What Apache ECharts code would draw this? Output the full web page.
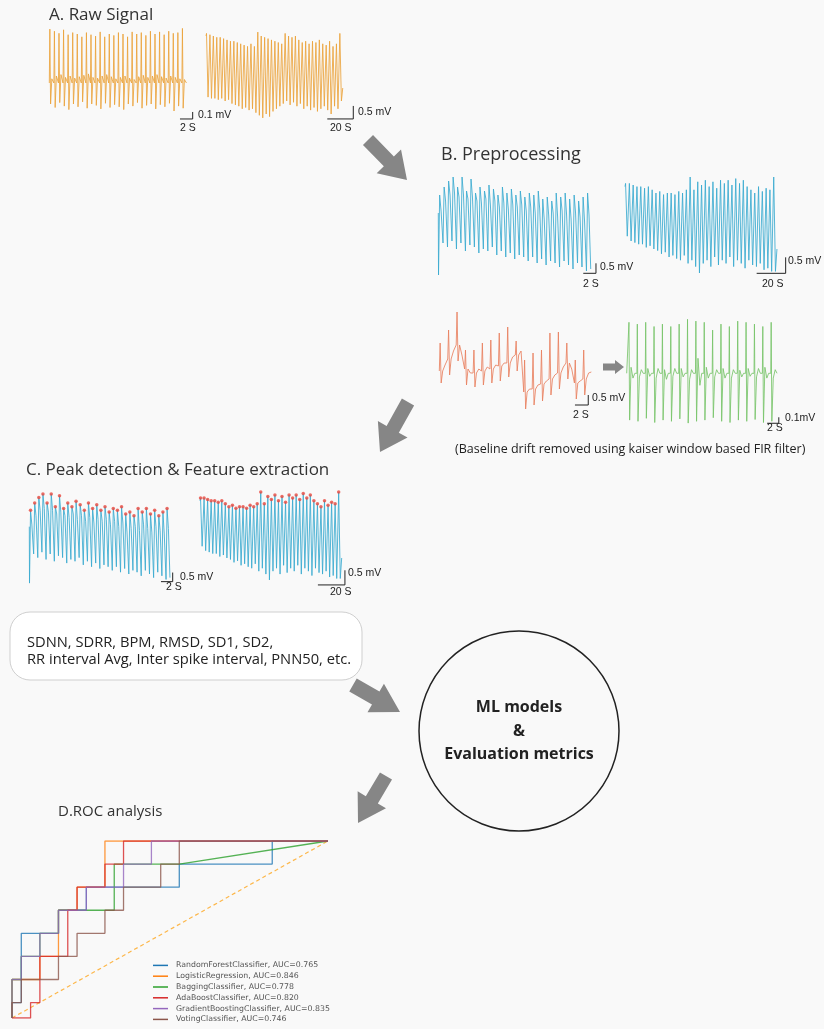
<!DOCTYPE html>
<html>
<head>
<meta charset="utf-8">
<script src="https://cdn.jsdelivr.net/npm/echarts@6/dist/echarts.min.js"></script>
<style>
  html, body { margin: 0; padding: 0; background: #f9f9f9; }
  #main { width: 824px; height: 1029px; }
</style>
</head>
<body>
<div id="main"></div>
<script>
// A. raw signal, short window (mV, one spike per beat)
const rawShortPeaks = [0.77, 0.74, 0.71, 0.76, 0.69, 0.72, 0.7, 0.66, 0.72, 0.69, 0.67, 0.73, 0.66, 0.7, 0.68, 0.72, 0.7, 0.66, 0.73, 0.7, 0.72, 0.68, 0.74, 0.7, 0.73, 0.69, 0.74, 0.71, 0.72, 0.78];
const rawShortTroughs = [-0.3, -0.35, -0.28, -0.33, -0.38, -0.3, -0.34, -0.27, -0.36, -0.3, -0.32, -0.37, -0.29, -0.35, -0.31, -0.34, -0.38, -0.3, -0.33, -0.28, -0.36, -0.32, -0.3, -0.37, -0.31, -0.34, -0.29, -0.4, -0.33, -0.36];
const rawShortHumps = [0.06, 0.1, 0.12, 0.08, 0.1, 0.07, 0.09, 0.11, 0.13, 0.08, 0.07, 0.1, 0.12, 0.09, 0.06, 0.08, 0.1, 0.07, 0.05, 0.09, 0.11, 0.08, 0.1, 0.12, 0.09, 0.07, 0.1, 0.08, 0.06, 0.05];
const rawShortPeriod = 0.72;

// A. raw signal, long window
const rawLongPeaks = [1.6, 1.55, 1.5, 1.45, 1.45, 1.4, 1.35, 1.3, 1.3, 1.25, 1.2, 1.15, 1.1, 1.2, 1.1, 1.65, 1.5, 1.45, 1.4, 1.35, 1.3, 1.25, 1.2, 1.6, 1.5, 1.45, 1.5, 1.35, 1.25, 1.3, 1.2, 1.3, 1.25, 1.35, 1.2, 1.15, 1.3, 1.1, 1.2, 1.6];
const rawLongTroughs = [-0.85, -0.9, -0.9, -0.95, -0.9, -1.0, -0.95, -1.1, -1.15, -1.2, -1.3, -1.25, -1.35, -1.3, -1.45, -1.55, -1.65, -1.5, -1.6, -1.4, -1.3, -1.2, -1.1, -1.0, -1.15, -1.05, -1.2, -1.1, -1.3, -1.2, -1.35, -1.25, -1.4, -1.3, -1.2, -1.35, -1.5, -1.2, -1.3, -1.0];
const rawLongPeriod = 2.63;

// B/C. filtered signal, short window
const filtShortPeaks = [1.5, 1.9, 2.2, 2.4, 1.9, 2.4, 1.7, 2.3, 1.6, 1.9, 1.7, 2.0, 1.8, 1.5, 1.9, 1.6, 1.8, 1.5, 1.7, 1.4, 1.6, 1.5, 1.7, 1.3, 1.4, 1.2, 1.6, 1.4, 1.6, 1.3, 1.5, 1.2, 1.4, 1.6];
const filtShortTroughs = [-2.5, -0.9, -1.1, -0.8, -1.2, -0.9, -1.3, -1.0, -1.1, -1.4, -1.2, -1.3, -1.1, -1.5, -1.3, -1.6, -1.4, -1.7, -1.5, -1.6, -1.8, -1.6, -1.9, -1.7, -2.0, -1.8, -1.9, -2.1, -1.8, -2.0, -2.2, -1.9, -2.1, -2.3];
const filtShortMids = [0.7, 1.2, 1.5, 1.6, 1.4, 1.5, 1.3, 1.4, 1.2, 1.1, 1.3, 1.0, 1.2, 0.9, 1.1, 0.8, 1.0, 0.9, 1.0, 0.7, 0.9, 0.6, 0.8, 0.3, 0.5, 0.6, 0.4, 0.7, 0.5, 0.3, 0.6, 0.4, 0.2, 0.5];
const filtShortPeriod = 0.706;

// B/C. filtered signal, long window
const filtLongPeaks = [1.3, 1.3, 1.25, 1.2, 1.2, 1.15, 1.2, 1.1, 1.0, 1.05, 0.95, 1.0, 1.0, 0.95, 1.05, 1.0, 1.1, 1.5, 1.1, 1.35, 1.25, 1.4, 1.2, 1.35, 1.15, 1.4, 1.3, 1.4, 1.25, 1.45, 1.3, 1.4, 1.2, 1.1, 1.0, 1.2, 1.05, 1.15, 1.1, 1.5];
const filtLongTroughs = [-0.35, -0.5, -0.55, -0.6, -0.6, -0.7, -0.65, -0.75, -0.8, -0.9, -0.85, -1.0, -0.95, -1.05, -1.1, -0.95, -1.2, -1.1, -1.3, -1.5, -1.2, -1.1, -1.3, -1.0, -1.25, -1.1, -1.2, -1.0, -1.3, -1.1, -1.2, -1.35, -1.1, -1.25, -1.3, -1.2, -1.4, -1.35, -1.45, -1.45];
const filtLongPeriod = 2.62;

// B. baseline drift example (orange) and after FIR filter (green)
const driftBase = [0.1, 0.7, 1.4, 0.2, 0.0, 0.1, 0.2, 0.35, 0.5, 0.9, -0.95, -0.8, -0.55, -0.3, 0.0, 0.5, -0.5, -0.3];
const driftPeaks = [1.5, 2.15, 3.05, 1.15, 1.15, 1.5, 1.65, 2.0, 2.3, 1.6, 0.65, 1.0, 1.15, 2.0, 2.05, 1.5, 0.65, 1.15];
const driftTroughs = [-0.5, -0.1, 0.6, -0.6, -0.7, -0.6, -0.5, -0.4, -0.2, 0.1, -1.8, -1.6, -1.4, -1.1, -0.8, -0.3, -1.3, -1.1];
const driftWiggle = [0.4, 1.1, 0.9, 0.0, 0.2, 0.3, 0.4, 0.5, 0.8, 1.1, -0.8, -0.6, -0.4, -0.1, 0.3, 0.2, -0.4, 0.0];
const driftPeriod = 1.27;

const cleanPeaks = [0.85, 0.82, 0.85, 0.78, 0.82, 0.78, 0.82, 0.9, 0.87, 0.85, 0.72, 0.82, 0.78, 0.87, 0.85, 0.82, 0.78, 0.85];
const cleanTroughs = [-0.78, -0.8, -0.75, -0.82, -0.78, -0.8, -0.76, -0.83, -0.8, -0.78, -0.74, -0.8, -0.82, -0.78, -0.8, -0.77, -0.82, -0.8];
const cleanNoiseA = [0.1, -0.06, 0.08, -0.08, 0.06, -0.05, 0.08, -0.1, 0.25, 0.1, -0.06, 0.08, -0.08, 0.05, 0.08, -0.06, 0.1, -0.08];
const cleanNoiseB = [-0.08, 0.06, -0.05, 0.08, -0.1, 0.08, -0.06, 0.06, -0.2, -0.08, 0.06, -0.08, 0.06, -0.06, -0.05, 0.08, -0.08, 0.06];
const cleanPeriod = 1.43;

// D. ROC curves (counts out of 34 negatives / 23 positives)
const NEG = 34, POS = 23;
const rocModels = ['RandomForestClassifier', 'LogisticRegression', 'BaggingClassifier', 'AdaBoostClassifier', 'GradientBoostingClassifier', 'VotingClassifier'];
const rocAuc = [0.765, 0.846, 0.778, 0.820, 0.835, 0.746];
const rocColors = ['#1f77b4', '#ff7f0e', '#2ca02c', '#d62728', '#9467bd', '#8c564b'];
const rocFp = [
  [0, 0, 1, 1, 5, 5, 8, 8, 18, 18, 28, 28, 34],
  [0, 0, 3, 3, 5, 5, 7, 7, 10, 10, 34],
  [0, 0, 1, 1, 3, 3, 5, 5, 11, 11, 18, 34],
  [0, 2, 2, 3, 3, 6, 6, 7, 7, 10, 10, 12, 12, 34],
  [0, 0, 1, 1, 3, 3, 5, 5, 8, 8, 12, 12, 15, 15, 34],
  [0, 0, 1, 1, 5, 5, 7, 7, 10, 10, 12, 12, 16, 16, 18, 18, 34]
];
const rocTp = [
  [0, 2, 2, 11, 11, 14, 14, 17, 17, 20, 20, 23, 23],
  [0, 5, 5, 8, 8, 14, 14, 17, 17, 23, 23],
  [0, 5, 5, 8, 8, 11, 11, 14, 14, 20, 20, 23],
  [0, 0, 2, 2, 8, 8, 14, 14, 17, 17, 20, 20, 23, 23],
  [0, 5, 5, 8, 8, 11, 11, 14, 14, 17, 17, 20, 20, 23, 23],
  [0, 2, 2, 5, 5, 8, 8, 11, 11, 14, 14, 17, 17, 20, 20, 23, 23]
];

// ---------- trace builders ----------
function spikeLine(peaks, troughs, humps, P) {
  const pts = [];
  peaks.forEach((p, i) => {
    const t = i * P;
    pts.push([t, 0], [t + 0.12 * P, p], [t + 0.28 * P, troughs[i]], [t + 0.55 * P, humps[i]]);
  });
  pts.push([peaks.length * P, 0]);
  return pts;
}
function sawLine(peaks, troughs, P, start, end) {
  const pts = [[0, start]];
  peaks.forEach((p, i) => {
    const t = i * P;
    pts.push([t + 0.15 * P, p], [t + 0.6 * P, troughs[i]]);
  });
  pts.push([peaks.length * P, end]);
  return pts;
}
function shoulderLine(peaks, troughs, mids, P, start, end) {
  const pts = [[0, start]];
  peaks.forEach((p, i) => {
    const t = i * P;
    pts.push([t + 0.05 * P, troughs[i]], [t + 0.3 * P, p], [t + 0.62 * P, mids[i]]);
  });
  pts.push([peaks.length * P, end]);
  return pts;
}
function driftLine(base, peaks, troughs, wig, P) {
  const pts = [];
  base.forEach((b, i) => {
    const t = i * P;
    pts.push([t, b], [t + 0.1 * P, peaks[i]], [t + 0.22 * P, troughs[i]], [t + 0.4 * P, b], [t + 0.68 * P, wig[i]]);
  });
  pts.push([base.length * P, 0.05]);
  return pts;
}
function cleanLine(peaks, troughs, nA, nB, P) {
  const pts = [[0, 0]];
  peaks.forEach((p, i) => {
    const t = (i + 0.27) * P;
    pts.push([t - 0.05 * P, 0], [t, p], [t + 0.08 * P, troughs[i]], [t + 0.25 * P, nA[i]], [t + 0.48 * P, nB[i]], [t + 0.7 * P, 0]);
  });
  return pts;
}

// ---------- panel layout (pixels) ----------
// left: pixel of t=0, zeroY: pixel of v=0, pxS / pxU: pixels per second / per unit
const panels = [
  { left: 49.3, zeroY: 83, pxS: 6.35, pxU: 70, tMax: 23.2, vMin: -0.6, vMax: 0.85, bar: [22.58, -0.514, 2, 0.1] },
  { left: 206, zeroY: 75, pxS: 1.3, pxU: 26, tMax: 115, vMin: -1.9, vMax: 1.8, bar: [113.3, -1.69, 20, 0.5] },
  { left: 438.3, zeroY: 225, pxS: 6.35, pxU: 20, tMax: 25.2, vMin: -2.7, vMax: 2.6, bar: [24.83, -2.415, 2, 0.5] },
  { left: 625, zeroY: 225, pxS: 1.45, pxU: 32, tMax: 112, vMin: -1.7, vMax: 1.7, bar: [110.8, -1.51, 20, 0.5] },
  { left: 439.3, zeroY: 373, pxS: 6.65, pxU: 20, tMax: 23.2, vMin: -2.2, vMax: 3.3, bar: [22.4, -1.6, 2, 0.5] },
  { left: 626.7, zeroY: 373.3, pxS: 5.85, pxU: 60, tMax: 26.3, vMin: -0.95, vMax: 0.95, bar: [26.0, -0.833, 2, 0.1] },
  { left: 29.3, zeroY: 537.6, pxS: 5.86, pxU: 18.2, tMax: 24.8, vMin: -2.6, vMax: 2.6, bar: [24.47, -2.42, 2, 0.5] },
  { left: 200, zeroY: 536, pxS: 1.352, pxU: 29.3, tMax: 108.5, vMin: -1.8, vMax: 1.7, bar: [107.2, -1.67, 20, 0.5] }
];

const grids = [], xAxes = [], yAxes = [], series = [];
panels.forEach((p, i) => {
  grids.push({ left: p.left, top: p.zeroY - p.vMax * p.pxU, width: p.tMax * p.pxS, height: (p.vMax - p.vMin) * p.pxU });
  xAxes.push({ gridIndex: i, type: 'value', min: 0, max: p.tMax, show: false });
  yAxes.push({ gridIndex: i, type: 'value', min: p.vMin, max: p.vMax, show: false });
  const [bt, bv, bw, bh] = p.bar;
  series.push({
    type: 'line', xAxisIndex: i, yAxisIndex: i, symbol: 'none', silent: true,
    lineStyle: { color: '#222', width: 1 },
    data: [[bt - bw, bv], [bt, bv], [bt, bv + bh]]
  });
});
// ROC grid
grids.push({ left: 12, top: 841, width: 316, height: 177 });
xAxes.push({ gridIndex: 8, type: 'value', min: 0, max: 1, show: false });
yAxes.push({ gridIndex: 8, type: 'value', min: 0, max: 1, show: false });

function trace(idx, data, color) {
  series.push({
    type: 'line', xAxisIndex: idx, yAxisIndex: idx, symbol: 'none', silent: true,
    lineStyle: { color: color, width: 1, opacity: 0.85 }, data: data
  });
}
const orangeRaw = '#eba33c', blueSig = '#3aaad0', driftCol = '#e9805f', cleanCol = '#78c46a';
trace(0, spikeLine(rawShortPeaks, rawShortTroughs, rawShortHumps, rawShortPeriod), orangeRaw);
trace(1, sawLine(rawLongPeaks, rawLongTroughs, rawLongPeriod, 1.5, -0.5), orangeRaw);
trace(2, shoulderLine(filtShortPeaks, filtShortTroughs, filtShortMids, filtShortPeriod, 0.6, -2.2), blueSig);
trace(3, sawLine(filtLongPeaks, filtLongTroughs, filtLongPeriod, 1.2, -0.75), blueSig);
trace(4, driftLine(driftBase, driftPeaks, driftTroughs, driftWiggle, driftPeriod), driftCol);
trace(5, cleanLine(cleanPeaks, cleanTroughs, cleanNoiseA, cleanNoiseB, cleanPeriod), cleanCol);
trace(6, shoulderLine(filtShortPeaks, filtShortTroughs, filtShortMids, filtShortPeriod, 0.6, -2.2), blueSig);
trace(7, sawLine(filtLongPeaks, filtLongTroughs, filtLongPeriod, 1.2, -0.75), blueSig);
// detected peaks
series.push({
  type: 'scatter', xAxisIndex: 6, yAxisIndex: 6, symbolSize: 3.5, silent: true, z: 5,
  itemStyle: { color: '#e8473d' }, data: filtShortPeaks.map((p, i) => [i * filtShortPeriod + 0.3 * filtShortPeriod, p])
});
series.push({
  type: 'scatter', xAxisIndex: 7, yAxisIndex: 7, symbolSize: 3.5, silent: true, z: 5,
  itemStyle: { color: '#e8473d' }, data: filtLongPeaks.map((p, i) => [i * filtLongPeriod + 0.15 * filtLongPeriod, p])
});

// ROC
series.push({
  type: 'line', xAxisIndex: 8, yAxisIndex: 8, symbol: 'none', silent: true,
  lineStyle: { color: '#fdb74a', width: 1.2, type: [4, 3] }, data: [[0, 0], [1, 1]]
});
const legendNames = [];
rocModels.forEach((m, k) => {
  const name = m + ', AUC=' + rocAuc[k].toFixed(3);
  legendNames.push(name);
  series.push({
    name: name, type: 'line', xAxisIndex: 8, yAxisIndex: 8, symbol: 'none', silent: true,
    color: rocColors[k], lineStyle: { color: rocColors[k], width: 1.3, opacity: 0.8 },
    data: rocFp[k].map((f, j) => [f / NEG, rocTp[k][j] / POS])
  });
});

// ---------- annotations ----------
function txt(x, y, text, size, opts) {
  opts = opts || {};
  return {
    type: 'text', x: x, y: y, silent: true, z: 10,
    style: {
      text: text, fontSize: size, fontFamily: opts.family || 'Liberation Sans',
      fontWeight: opts.weight || 'normal', fill: opts.color || '#222',
      align: opts.align || 'left', verticalAlign: 'middle'
    }
  };
}
function arrow(tail, tip, sw, hw, hl) {
  const dx = tip[0] - tail[0], dy = tip[1] - tail[1];
  const L = Math.hypot(dx, dy), ux = dx / L, uy = dy / L, nx = -uy, ny = ux;
  const nk = [tip[0] - ux * hl, tip[1] - uy * hl];
  return {
    type: 'polygon', silent: true,
    shape: { points: [
      [tail[0] + nx * sw, tail[1] + ny * sw], [nk[0] + nx * sw, nk[1] + ny * sw], [nk[0] + nx * hw, nk[1] + ny * hw],
      tip, [nk[0] - nx * hw, nk[1] - ny * hw], [nk[0] - nx * sw, nk[1] - ny * sw], [tail[0] - nx * sw, tail[1] - ny * sw]
    ] },
    style: { fill: '#868686' }
  };
}
const titleFont = { family: 'Open Sans', color: '#333' };
const graphics = [
  { type: 'rect', silent: true, shape: { x: 10, y: 612, width: 352, height: 68, r: 20 }, style: { fill: '#fff', stroke: '#cfcfcf', lineWidth: 1 } },
  { type: 'circle', silent: true, shape: { cx: 519, cy: 731, r: 100 }, style: { fill: 'none', stroke: '#222', lineWidth: 1.5 } },
  arrow([368, 140], [407, 180], 7, 17, 26),
  arrow([408, 402], [380, 452], 7, 17, 26),
  arrow([353, 685], [400, 712], 7.5, 16.5, 28),
  arrow([386, 776], [358, 823], 7, 16.5, 27),
  arrow([603, 367], [624, 367], 3.5, 7, 9),
  txt(49, 15, 'A. Raw Signal', 17, titleFont),
  txt(441, 155, 'B. Preprocessing', 18, titleFont),
  txt(26, 470, 'C. Peak detection & Feature extraction', 17, titleFont),
  txt(58, 812, 'D.ROC analysis', 15, titleFont),
  txt(198, 115, '0.1 mV', 10.5), txt(180, 128, '2 S', 10.5),
  txt(358, 112, '0.5 mV', 10.5), txt(330, 128, '20 S', 10.5),
  txt(600, 267, '0.5 mV', 10.5), txt(583, 284, '2 S', 10.5),
  txt(788, 261, '0.5 mV', 10.5), txt(762, 284, '20 S', 10.5),
  txt(592, 398, '0.5 mV', 10.5), txt(573, 415, '2 S', 10.5),
  txt(785, 418, '0.1mV', 10.5), txt(767, 428, '2 S', 10.5),
  txt(180, 577, '0.5 mV', 10.5), txt(166, 587, '2 S', 10.5),
  txt(348, 573, '0.5 mV', 10.5), txt(330, 592, '20 S', 10.5),
  txt(455, 449, '(Baseline drift removed using kaiser window based FIR filter)', 12.5, { family: 'Open Sans' }),
  txt(27, 643, 'SDNN, SDRR, BPM, RMSD, SD1, SD2,', 14.7, { family: 'Open Sans', color: '#222' }),
  txt(27, 660, 'RR interval Avg, Inter spike interval, PNN50, etc.', 14.7, { family: 'Open Sans', color: '#222' }),
  txt(519, 707, 'ML models', 16, { family: 'Open Sans', weight: 'bold', align: 'center' }),
  txt(519, 731, '&', 16, { family: 'Open Sans', weight: 'bold', align: 'center' }),
  txt(519, 754, 'Evaluation metrics', 16, { family: 'Open Sans', weight: 'bold', align: 'center' })
];

const chart = echarts.init(document.getElementById('main'), null, { renderer: 'canvas' });
chart.setOption({
  backgroundColor: '#f9f9f9',
  animation: false,
  grid: grids,
  xAxis: xAxes,
  yAxis: yAxes,
  legend: {
    data: legendNames, orient: 'vertical', left: 153, top: 960, padding: 0,
    itemWidth: 15, itemHeight: 1.5, itemGap: 0, icon: 'rect', selectedMode: false,
    textStyle: { fontSize: 7.8, fontFamily: 'DejaVu Sans', color: '#555', lineHeight: 10.8, padding: [0, 0, 0, 3] }
  },
  graphic: graphics,
  series: series
});
</script>
</body>
</html>
